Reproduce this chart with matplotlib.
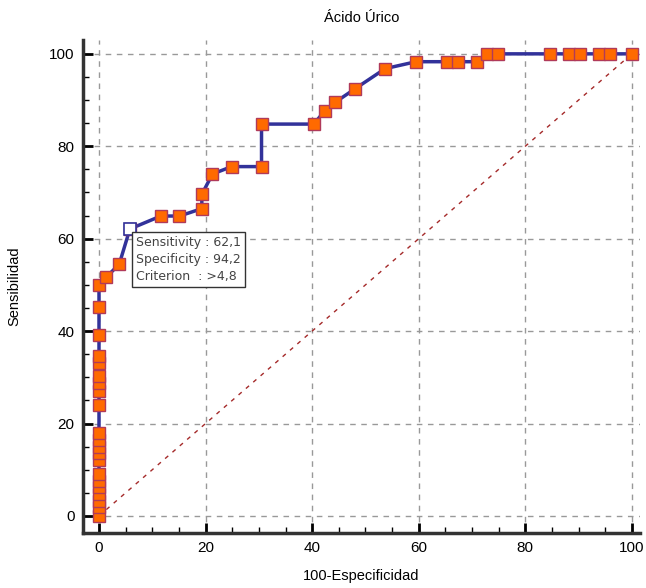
import matplotlib.pyplot as plt
import numpy as np

plt.rcParams['font.family'] = ['Liberation Sans', 'DejaVu Sans']

# ROC points (100-specificity, sensitivity)
fpr = [0, 0, 0, 0, 0, 0, 0, 0, 0, 0, 0, 0, 0, 0, 0, 0, 0, 0, 0, 0, 0,
       1.4, 3.8, 5.8, 11.6, 15.1, 19.3, 19.3, 21.3, 24.9, 30.5, 30.5, 40.3,
       42.4, 44.3, 48.0, 53.7, 59.5, 65.4, 67.3, 71.0, 72.9, 74.8, 84.6,
       88.2, 90.2, 93.8, 95.9, 100]
sens = [0, 1.9, 3.3, 4.7, 6.2, 7.6, 9.1, 12.1, 13.6, 15.0, 16.5, 17.9,
        24.0, 27.1, 28.7, 30.2, 33.1, 34.6, 39.2, 45.2, 49.9,
        51.7, 54.5, 62.1, 64.9, 64.9, 66.5, 69.6, 74.0, 75.6, 75.6, 84.8, 84.8,
        87.7, 89.5, 92.4, 96.8, 98.3, 98.3, 98.3, 98.3, 100, 100, 100,
        100, 100, 100, 100, 100]

crit_x, crit_y = 5.8, 62.1
info = ["Sensitivity : 62,1", "Specificity : 94,2", "Criterion  : >4,8"]

fig = plt.figure(figsize=(6.46, 5.88), dpi=100)
ax = fig.add_axes([0.1285, 0.0935, 0.862, 0.8385])

ax.plot([0, 100], [0, 100], color='#a52a2a', linestyle=(0, (3, 4)), linewidth=1)
ax.plot(fpr, sens, color='#32329a', linewidth=2.5, marker='s', markersize=8,
        markerfacecolor='#ff6a00', markeredgecolor='#b03a5a', markeredgewidth=1,
        zorder=3)
ax.plot([crit_x], [crit_y], marker='s', markersize=8, markerfacecolor='white',
        markeredgecolor='#32329a', markeredgewidth=1.2, zorder=4)

ax.text(6.9, 60.6, "\n".join(info), fontsize=9, family='DejaVu Sans',
        color='#444444', va='top', ha='left', linespacing=1.4,
        bbox=dict(boxstyle='square,pad=0.3', facecolor='white',
                  edgecolor='#333333', linewidth=1), zorder=5)

ax.set_xlim(-3, 101.5)
ax.set_ylim(-3.7, 103)
ax.set_xticks(np.arange(0, 101, 20))
ax.set_yticks(np.arange(0, 101, 20))
ax.set_xticks(np.arange(0, 101, 5), minor=True)
ax.set_yticks(np.arange(0, 101, 5), minor=True)
ax.tick_params(which='major', direction='in', length=7, width=2, labelsize=11,
               pad=6)
ax.tick_params(which='minor', direction='in', length=4, width=1)
ax.grid(True, which='major', color='#999999', linestyle=(0, (4, 4)), linewidth=1)

for s in ['top', 'right']:
    ax.spines[s].set_visible(False)
for s in ['left', 'bottom']:
    ax.spines[s].set_linewidth(2.5)
    ax.spines[s].set_color('#333333')

ax.set_title('Ácido Úrico', fontsize=10.5, pad=13)
ax.set_xlabel('100-Especificidad', fontsize=10.5, labelpad=10)
ax.set_ylabel('Sensibilidad', fontsize=10.5, labelpad=20)

plt.savefig('out.png', dpi=100)
